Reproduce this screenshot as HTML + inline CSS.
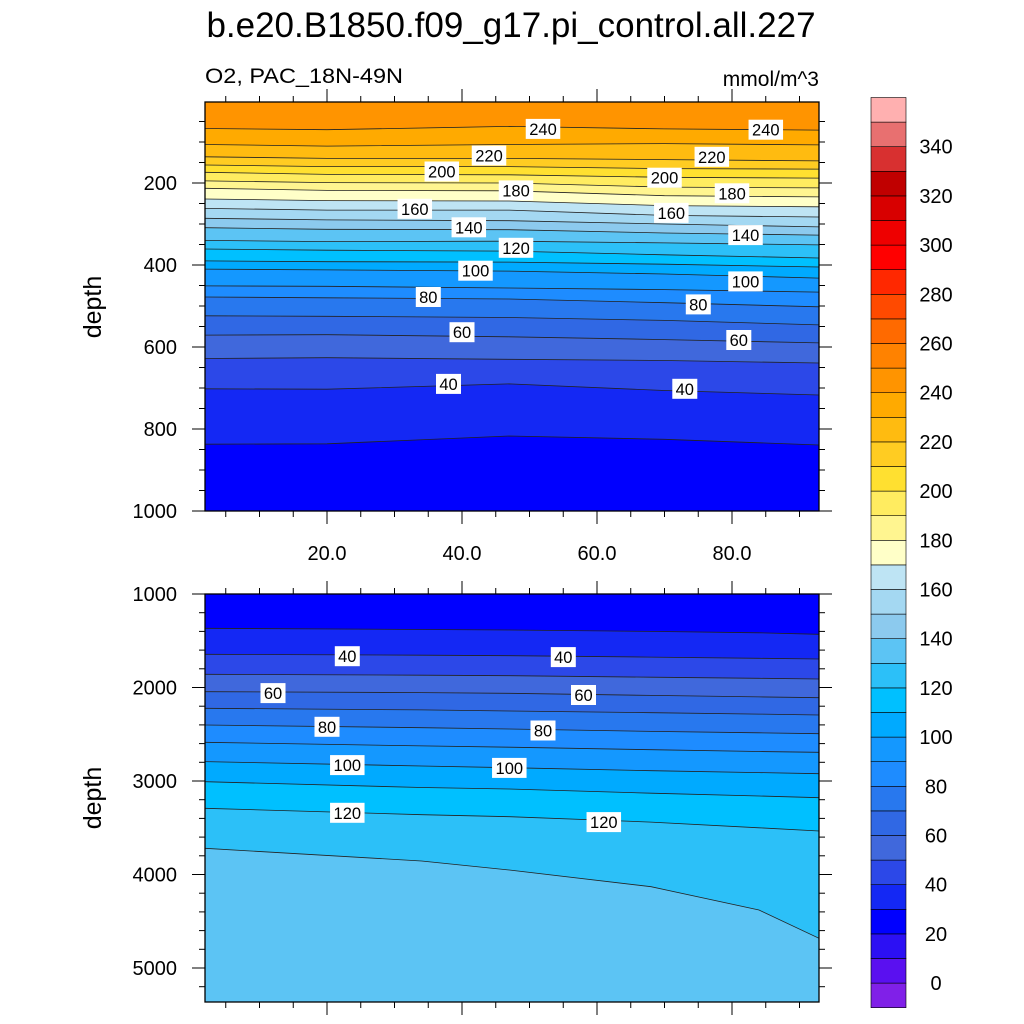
<!DOCTYPE html>
<html><head><meta charset="utf-8">
<style>
html,body{margin:0;padding:0;background:#fff;}
svg{display:block;font-family:"Liberation Sans",sans-serif;}
</style></head>
<body>
<svg id="chart" width="1024" height="1024" viewBox="0 0 1024 1024">
<text x="511" y="37" font-size="35" text-anchor="middle">b.e20.B1850.f09_g17.pi_control.all.227</text>
<text x="205" y="83" font-size="21" textLength="198" lengthAdjust="spacingAndGlyphs">O2, PAC_18N-49N</text>
<text x="819" y="86" font-size="21" text-anchor="end">mmol/m^3</text>
<text transform="translate(101,307) rotate(-90)" font-size="25" text-anchor="middle">depth</text>
<text transform="translate(101,798) rotate(-90)" font-size="25" text-anchor="middle">depth</text>
<g id="top"></g>
<g id="bot"></g>
<g id="cbar"></g>
</svg>
<script>
// ---- data ----
const cbLevels = [0,10,20,30,40,50,60,70,80,90,100,110,120,130,140,150,160,170,180,190,200,210,220,230,240,250,260,270,280,290,300,310,320,330,340,350];
const cbColors = ["#8020e8","#5a10f0","#2c10f4","#0000ff","#1428f4","#2c48e8","#4068dc","#3068e4","#2878ee","#1e8cff","#1498ff","#00aaff","#00c0ff","#2cc0f8","#5cc4f4","#8ccaee","#a4d8f2","#bee4f4","#ffffc8","#fff590","#ffec60","#ffe030","#ffcc22","#ffbb10","#ffaa00","#ff9400","#ff8200","#ff6a00","#ff4a00","#ff2800","#ff0000","#ee0000","#d80000","#c00000","#d83030","#e87070","#ffb0b0"];
const cbLabels = [0,20,40,60,80,100,120,140,160,180,200,220,240,260,280,300,320,340];

const topX = [2,20,47,70,93];
const topLevels = [240,230,220,210,200,190,180,170,160,150,140,130,120,110,100,90,80,70,60,50,40,30];
const topD0 = [67,106,136,156,174,195,213,239,262,286,309,340,361,390,410,451,478,524,571,628,702,837];
const topD1 = [70,110,140,160,179,199,218,243,266,290,313,343,364,392,412,452,480,525,570,626,703,836];
const topD2 = [62,106,140,160,180,200,219,244,266,292,314,342,366,393,415,456,483,528,575,630,690,817];
const topD3 = [68,104,143,165,186,210,231,255,279,300,322,346,375,398,422,460,492,535,582,633,706,825];
const topD4 = [71,107,146,166,188,212,234,258,283,307,327,351,383,405,432,466,502,546,590,639,717,839];

const botX = [2,34,47,68,84,93];
const botLevels = [30,40,50,60,70,80,90,100,110,120,130];
const botD0 = [1367,1645,1859,2045,2222,2401,2586,2793,3007,3292,3720];
const botD1 = [1380,1655,1868,2055,2240,2430,2625,2840,3070,3360,3856];
const botD2 = [1385,1660,1874,2062,2251,2444,2639,2858,3086,3382,3952];
const botD3 = [1400,1675,1890,2085,2270,2470,2665,2890,3130,3440,4131];
const botD4 = [1415,1688,1902,2100,2285,2485,2685,2910,3160,3500,4380];
const botD5 = [1431,1695,1909,2109,2294,2494,2693,2922,3179,3535,4682];

const topYTicks = [200,400,600,800,1000];
const botYTicks = [1000,2000,3000,4000,5000];
const xTicks = [20,40,60,80];
const xTickLabels = ["20.0","40.0","60.0","80.0"];

const topLabels = [[240,52,68],[240,85,70],[220,44,133],[220,77,136],[200,37,172],[200,70,187],[180,48,218],[180,80,225],[160,33,263],[160,71,273],[140,41,308],[140,82,327],[120,48,358],[100,42,414],[100,82,440],[80,35,478],[80,75,496],[60,40,564],[60,81,583],[40,38,690],[40,73,702]];
const botLabels = [[40,23,1665],[40,55,1675],[60,12,2060],[60,58,2080],[80,20,2420],[80,52,2460],[100,23,2830],[100,47,2860],[120,23,3340],[120,61,3440]];

// ---- axes ----
const X0=205, X1=819;
const xs = v => 327 + (v-20)*6.75;
const ysTop = d => 101 + d*0.41;
const ysBot = d => 594 + (d-1000)*0.0935;
const topCols=[topD0,topD1,topD2,topD3,topD4];
const botCols=[botD0,botD1,botD2,botD3,botD4,botD5];
const NS="http://www.w3.org/2000/svg";
function mk(tag,attrs,parent){const e=document.createElementNS(NS,tag);for(const k in attrs)e.setAttribute(k,attrs[k]);parent.appendChild(e);return e;}
function colorFor(v){return cbColors[Math.round(v/10)+1];}
function clampX(v){return Math.max(X0,Math.min(X1,xs(v)));}

function panel(g,xArr,levels,cols,ys,yTop,yBot,higherUp,bgColor,tickVals,tickLabels,minorStep,minorFrom,minorTo,labels,showX,name){
  const clip=mk('clipPath',{id:'clip'+name},g);
  mk('rect',{x:X0,y:yTop,width:X1-X0,height:yBot-yTop},clip);
  const cg=mk('g',{'clip-path':'url(#clip'+name+')'},g);
  const bg=mk('rect',{x:X0,y:yTop,width:X1-X0,height:yBot-yTop,fill:bgColor},cg);
  
  
  const order = levels.map((l,i)=>i).sort((a,b)=>levels[a]-levels[b]);
  for(const i of order){
    const pts=xArr.map((xv,j)=>[clampX(xv),ys(cols[j][i])]);
    pts[0][0]=X0; pts[pts.length-1][0]=X1;
    const line=pts.map(p=>p[0].toFixed(1)+','+p[1].toFixed(1)).join(' ');
    const edge = higherUp ? yTop-2 : yBot+2;
    const poly=mk('polygon',{points:X0+','+edge+' '+line+' '+X1+','+edge,fill:colorFor(levels[i])},cg);
    
    
  }
  for(let i=0;i<levels.length;i++){
    const pts=xArr.map((xv,j)=>[clampX(xv),ys(cols[j][i])]);
    pts[0][0]=X0; pts[pts.length-1][0]=X1;
    const pl=mk('polyline',{points:pts.map(p=>p[0].toFixed(1)+','+p[1].toFixed(1)).join(' '),fill:'none',stroke:'#222','stroke-width':0.8},cg);
    
    
  }
  for(const [v,xv,d] of labels){
    const lg=mk('g',{transform:'translate('+xs(xv).toFixed(1)+','+ys(d).toFixed(1)+')'},g);
    
    
    const w = String(v).length*9.5+6;
    mk('rect',{x:-w/2,y:-10,width:w,height:20,fill:'#fff'},lg);
    const t=mk('text',{x:0,y:6,'font-size':16.5,'text-anchor':'middle'},lg);
    t.textContent=v;
  }
  const frame=mk('rect',{x:X0,y:yTop,width:X1-X0,height:yBot-yTop,fill:'none',stroke:'#000','stroke-width':1.3},g);
  
  
  for(let d=minorFrom; d<=minorTo+0.1; d+=minorStep){
    const y=ys(d); if(y<yTop-0.5||y>yBot+0.5) continue;
    const major=tickVals.includes(d);
    const L=major?13:6;
    mk('line',{x1:X0-L,y1:y,x2:X0,y2:y,stroke:'#000','stroke-width':1},g);
    mk('line',{x1:X1,y1:y,x2:X1+L,y2:y,stroke:'#000','stroke-width':1},g);
  }
  tickVals.forEach((d,k)=>{
    const t=mk('text',{x:177,y:ys(d)+7,'font-size':20,'text-anchor':'end'},g);
    
    
    t.textContent=tickLabels[k];
  });
  for(let v=5; v<=90; v+=5){
    const x=xs(v); const major=xTicks.includes(v); const L=major?13:6;
    mk('line',{x1:x,y1:yTop-L,x2:x,y2:yTop,stroke:'#000','stroke-width':1},g);
    mk('line',{x1:x,y1:yBot,x2:x,y2:yBot+L,stroke:'#000','stroke-width':1},g);
  }
  if(showX){
    xTicks.forEach((v,k)=>{
      const t=mk('text',{x:xs(v),y:yBot+49,'font-size':20,'text-anchor':'middle'},g);
      
      
      t.textContent=xTickLabels[k];
    });
  }
}
panel(document.getElementById('top'),topX,topLevels,topCols,ysTop,102,511,true,colorFor(20),topYTicks,topYTicks.map(String),50,0,1000,topLabels,true,'top');
panel(document.getElementById('bot'),botX,botLevels,botCols,ysBot,594,1002,false,colorFor(20),botYTicks,botYTicks.map(String),200,1000,5400,botLabels,false,'bottom');

const cb=document.getElementById('cbar');
const cbTop=97.5, cbH=24.6, cbX=871, cbW=35, N=cbColors.length;
for(let i=0;i<N;i++){
  const y=cbTop+(N-1-i)*cbH;
  const r=mk('rect',{x:cbX,y:y,width:cbW,height:cbH,fill:cbColors[i],stroke:'#000','stroke-width':0.6},cb);
  
  
}
cbLabels.forEach(v=>{
  const idx=cbLevels.indexOf(v);
  const y=cbTop+(N-1-idx)*cbH;
  const t=mk('text',{x:936,y:y+7,'font-size':20,'text-anchor':'middle'},cb);
  
  
  t.textContent=v;
});
</script>
</body></html>
